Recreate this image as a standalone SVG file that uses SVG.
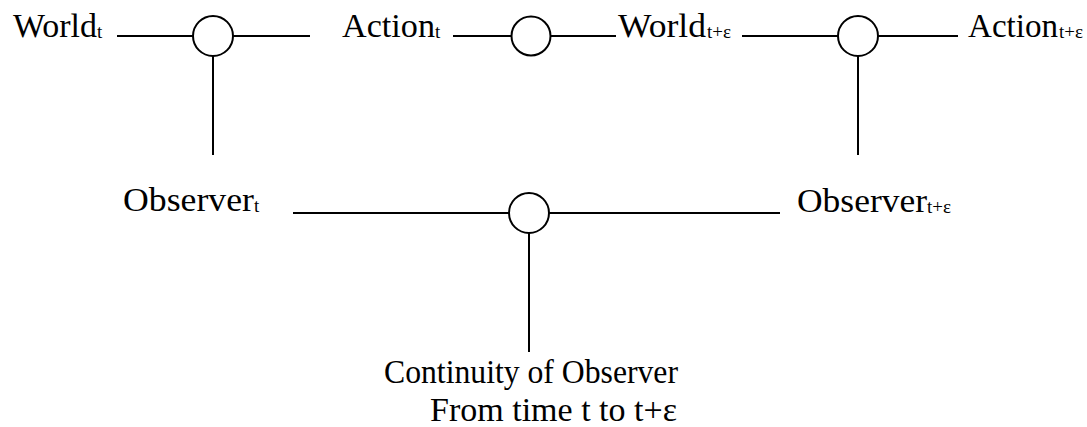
<svg xmlns="http://www.w3.org/2000/svg" width="1087" height="427" viewBox="0 0 1087 427">
  <style>
    .lbl { font-family: "Liberation Serif", "Times New Roman", serif; font-size: 34px; fill: #000; }
    .sub { font-size: 19px; }
    .wire { stroke: #000; stroke-width: 2; fill: none; }
    .junction { stroke: #000; stroke-width: 2; fill: #fff; }
  </style>
  <rect width="1087" height="427" fill="#fff"/>

  <!-- connectors -->
  <g id="connectors" class="wire">
    <line x1="117" y1="36" x2="193" y2="36"/>
    <line x1="233" y1="36" x2="310" y2="36"/>
    <line x1="213" y1="56" x2="213" y2="155"/>
    <line x1="453" y1="36" x2="512" y2="36"/>
    <line x1="551" y1="36" x2="616" y2="36"/>
    <line x1="742" y1="36" x2="838" y2="36"/>
    <line x1="878" y1="36" x2="958" y2="36"/>
    <line x1="858" y1="56" x2="858" y2="155"/>
    <line x1="293" y1="213" x2="509" y2="213"/>
    <line x1="549" y1="213" x2="780" y2="213"/>
    <line x1="529" y1="233" x2="529" y2="352"/>
  </g>

  <!-- junctions -->
  <g id="junction-world-observer"><circle class="junction" cx="213" cy="36" r="20"/></g>
  <g id="junction-action-world"><circle class="junction" cx="531" cy="36" r="19.5"/></g>
  <g id="junction-world-observer-next"><circle class="junction" cx="858" cy="36" r="20"/></g>
  <g id="junction-observer-continuity"><circle class="junction" cx="529" cy="213" r="20"/></g>

  <!-- labels -->
  <g id="world-t"><text class="lbl" x="13" y="37"><tspan textLength="84" lengthAdjust="spacingAndGlyphs">World</tspan><tspan class="sub" dy="1">t</tspan></text></g>
  <g id="action-t"><text class="lbl" x="342" y="37"><tspan textLength="93" lengthAdjust="spacingAndGlyphs">Action</tspan><tspan class="sub" dy="1">t</tspan></text></g>
  <g id="world-t-eps"><text class="lbl" x="618" y="37"><tspan textLength="88" lengthAdjust="spacingAndGlyphs">World</tspan><tspan class="sub" dy="1" dx="1">t+ε</tspan></text></g>
  <g id="action-t-eps"><text class="lbl" x="968" y="37"><tspan textLength="90" lengthAdjust="spacingAndGlyphs">Action</tspan><tspan class="sub" dy="1" dx="1">t+ε</tspan></text></g>
  <g id="observer-t"><text class="lbl" x="123" y="211"><tspan textLength="131" lengthAdjust="spacingAndGlyphs">Observer</tspan><tspan class="sub" dy="1">t</tspan></text></g>
  <g id="observer-t-eps"><text class="lbl" x="797" y="212"><tspan textLength="130" lengthAdjust="spacingAndGlyphs">Observer</tspan><tspan class="sub" dy="1">t+ε</tspan></text></g>
  <g id="continuity">
    <text class="lbl" x="384" y="383" textLength="294" lengthAdjust="spacingAndGlyphs">Continuity of Observer</text>
    <text class="lbl" x="430" y="421" textLength="247" lengthAdjust="spacingAndGlyphs">From time t to t+ε</text>
  </g>
</svg>
